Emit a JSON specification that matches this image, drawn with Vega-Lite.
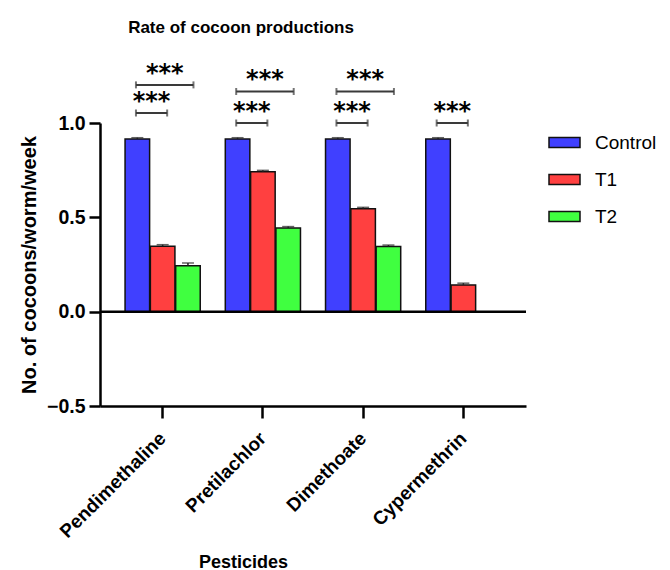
{
  "$schema": "https://vega.github.io/schema/vega-lite/v6.json",
  "width": 426,
  "height": 283,
  "autosize": {"type": "none"},
  "padding": {"left": 100, "top": 123, "right": 144, "bottom": 164},
  "background": "white",
  "title": {
    "text": "Rate of cocoon productions",
    "font": "Liberation Sans",
    "fontSize": 17,
    "fontWeight": "bold",
    "color": "black",
    "anchor": "middle",
    "frame": "group",
    "dx": -72,
    "baseline": "alphabetic",
    "offset": 12
  },
  "datasets": {
    "bars": [
      {"pesticide": "Pendimethaline", "group": "Control", "value": 0.915, "upper": 0.922},
      {"pesticide": "Pendimethaline", "group": "T1", "value": 0.347, "upper": 0.355},
      {"pesticide": "Pendimethaline", "group": "T2", "value": 0.243, "upper": 0.258},
      {"pesticide": "Pretilachlor", "group": "Control", "value": 0.915, "upper": 0.922},
      {"pesticide": "Pretilachlor", "group": "T1", "value": 0.742, "upper": 0.749},
      {"pesticide": "Pretilachlor", "group": "T2", "value": 0.444, "upper": 0.451},
      {"pesticide": "Dimethoate", "group": "Control", "value": 0.915, "upper": 0.922},
      {"pesticide": "Dimethoate", "group": "T1", "value": 0.546, "upper": 0.553},
      {"pesticide": "Dimethoate", "group": "T2", "value": 0.346, "upper": 0.353},
      {"pesticide": "Cypermethrin", "group": "Control", "value": 0.915, "upper": 0.922},
      {"pesticide": "Cypermethrin", "group": "T1", "value": 0.142, "upper": 0.151}
    ],
    "brackets": [
      {"pesticide": "Pendimethaline", "span": "long", "level": 1.202, "stars": "***"},
      {"pesticide": "Pendimethaline", "span": "short", "level": 1.053, "stars": "***"},
      {"pesticide": "Pretilachlor", "span": "long", "level": 1.167, "stars": "***"},
      {"pesticide": "Pretilachlor", "span": "short", "level": 1.0, "stars": "***"},
      {"pesticide": "Dimethoate", "span": "long", "level": 1.167, "stars": "***"},
      {"pesticide": "Dimethoate", "span": "short", "level": 1.0, "stars": "***"},
      {"pesticide": "Cypermethrin", "span": "short", "level": 1.0, "stars": "***"}
    ]
  },
  "layer": [
    {
      "data": {"name": "bars"},
      "mark": {"type": "bar", "stroke": "#111111", "strokeWidth": 1.5, "opacity": 1},
      "encoding": {
        "x": {
          "field": "pesticide",
          "type": "nominal",
          "scale": {"domain": ["Pendimethaline", "Pretilachlor", "Dimethoate", "Cypermethrin"], "paddingInner": 0.25, "paddingOuter": 0.25},
          "axis": {
            "title": "Pesticides",
            "titleFontSize": 18,
            "titleX": 143,
            "titleY": 161,
            "titleBaseline": "alphabetic",
            "labelAngle": -45,
            "labelAlign": "right",
            "labelBaseline": "middle",
            "labelFontSize": 19,
            "labelPadding": 17,
            "labelOffset": 0,
            "tickSize": 12
          }
        },
        "xOffset": {
          "field": "group",
          "type": "nominal",
          "scale": {"domain": ["Control", "T1", "T2"], "paddingInner": 0.03, "paddingOuter": 0}
        },
        "y": {
          "field": "value",
          "type": "quantitative",
          "scale": {"domain": [-0.5, 1.0], "nice": false, "zero": false},
          "axis": {
            "title": "No. of cocoons/worm/week",
            "titleFontSize": 20,
            "titleX": -65,
            "titleY": 141.5,
            "titleBaseline": "alphabetic",
            "values": [-0.5, 0, 0.5, 1.0],
            "format": ".1f",
            "labelFontSize": 19.5,
            "labelPadding": 4,
            "tickSize": 11
          }
        },
        "color": {
          "field": "group",
          "type": "nominal",
          "scale": {"domain": ["Control", "T1", "T2"], "range": ["#4040ff", "#ff4040", "#40ff40"]},
          "legend": {
            "title": null,
            "orient": "none",
            "legendX": 448,
            "legendY": 3,
            "padding": 0,
            "symbolType": "M-1,-0.32H1V0.32H-1Z",
            "symbolSize": 961,
            "symbolStrokeColor": "#111111",
            "symbolStrokeWidth": 1.5,
            "symbolOpacity": 1,
            "labelFont": "Liberation Sans",
            "labelFontSize": 19,
            "labelColor": "black",
            "labelOffset": 14,
            "rowPadding": 10
          }
        }
      }
    },
    {
      "data": {"name": "bars"},
      "mark": {"type": "rule", "color": "#222222", "strokeWidth": 1.5},
      "encoding": {
        "x": {"field": "pesticide", "type": "nominal"},
        "xOffset": {"field": "group", "type": "nominal"},
        "y": {"field": "value", "type": "quantitative"},
        "y2": {"field": "upper"}
      }
    },
    {
      "data": {"name": "bars"},
      "mark": {"type": "tick", "color": "#222222", "size": 12, "thickness": 1.5},
      "encoding": {
        "x": {"field": "pesticide", "type": "nominal"},
        "xOffset": {"field": "group", "type": "nominal"},
        "y": {"field": "upper", "type": "quantitative"}
      }
    },
    {
      "data": {"name": "bars"},
      "transform": [{"aggregate": [{"op": "count", "as": "n"}]}],
      "mark": {"type": "rule", "color": "black", "strokeWidth": 2.5},
      "encoding": {"y": {"datum": 0, "type": "quantitative"}}
    },
    {
      "data": {"name": "brackets"},
      "transform": [{"filter": "datum.span === 'short'"}],
      "mark": {"type": "rule", "color": "#3a3a3a", "strokeWidth": 2},
      "encoding": {
        "x": {"field": "pesticide", "type": "nominal", "bandPosition": 0.145},
        "x2": {"field": "pesticide", "bandPosition": 0.56},
        "y": {"field": "level", "type": "quantitative"}
      }
    },
    {
      "data": {"name": "brackets"},
      "transform": [{"filter": "datum.span === 'long'"}],
      "mark": {"type": "rule", "color": "#3a3a3a", "strokeWidth": 2},
      "encoding": {
        "x": {"field": "pesticide", "type": "nominal", "bandPosition": 0.145},
        "x2": {"field": "pesticide", "bandPosition": 0.91},
        "y": {"field": "level", "type": "quantitative"}
      }
    },
    {
      "data": {"name": "brackets"},
      "mark": {"type": "tick", "orient": "vertical", "color": "#3a3a3a", "size": 7, "thickness": 2},
      "encoding": {
        "x": {"field": "pesticide", "type": "nominal", "bandPosition": 0.145},
        "y": {"field": "level", "type": "quantitative"}
      }
    },
    {
      "data": {"name": "brackets"},
      "transform": [{"filter": "datum.span === 'short'"}],
      "mark": {"type": "tick", "orient": "vertical", "color": "#3a3a3a", "size": 7, "thickness": 2},
      "encoding": {
        "x": {"field": "pesticide", "type": "nominal", "bandPosition": 0.56},
        "y": {"field": "level", "type": "quantitative"}
      }
    },
    {
      "data": {"name": "brackets"},
      "transform": [{"filter": "datum.span === 'long'"}],
      "mark": {"type": "tick", "orient": "vertical", "color": "#3a3a3a", "size": 7, "thickness": 2},
      "encoding": {
        "x": {"field": "pesticide", "type": "nominal", "bandPosition": 0.91},
        "y": {"field": "level", "type": "quantitative"}
      }
    },
    {
      "data": {"name": "brackets"},
      "transform": [{"filter": "datum.span === 'short'"}],
      "mark": {"type": "text", "font": "DejaVu Sans", "fontWeight": "bold", "fontSize": 24, "color": "black", "baseline": "alphabetic", "align": "center", "dy": -4},
      "encoding": {
        "x": {"field": "pesticide", "type": "nominal", "bandPosition": 0.3525},
        "y": {"field": "level", "type": "quantitative"},
        "text": {"field": "stars"}
      }
    },
    {
      "data": {"name": "brackets"},
      "transform": [{"filter": "datum.span === 'long'"}],
      "mark": {"type": "text", "font": "DejaVu Sans", "fontWeight": "bold", "fontSize": 24, "color": "black", "baseline": "alphabetic", "align": "center", "dy": -4},
      "encoding": {
        "x": {"field": "pesticide", "type": "nominal", "bandPosition": 0.5275},
        "y": {"field": "level", "type": "quantitative"},
        "text": {"field": "stars"}
      }
    }
  ],
  "config": {
    "font": "Liberation Sans",
    "view": {"stroke": null},
    "axis": {
      "grid": false,
      "domainColor": "black",
      "domainWidth": 2.5,
      "tickColor": "black",
      "tickWidth": 2.5,
      "labelColor": "black",
      "labelFont": "Liberation Sans",
      "labelFontWeight": "bold",
      "titleFont": "Liberation Sans",
      "titleFontWeight": "bold",
      "titleColor": "black"
    }
  }
}
